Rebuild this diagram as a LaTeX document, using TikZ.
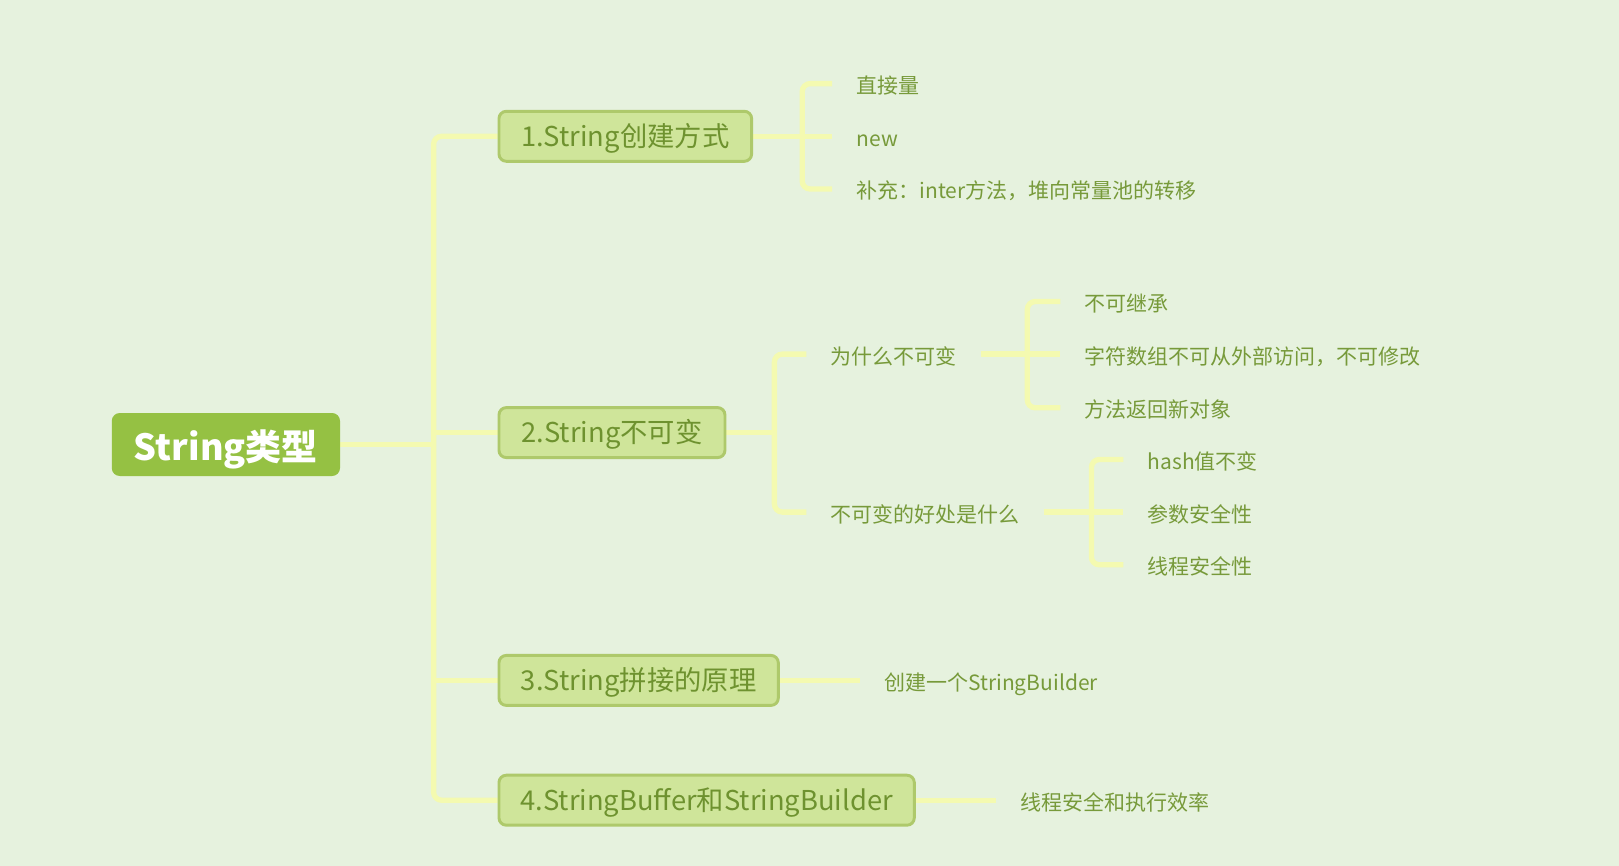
\documentclass[tikz,border=0pt]{standalone}
\usepackage{fontspec}
\setmainfont{Noto Sans CJK SC}
\usetikzlibrary{backgrounds}
\definecolor{bgcol}{HTML}{E6F2DE}
\definecolor{linecol}{HTML}{F4FAB0}
\definecolor{rootfill}{HTML}{95C143}
\definecolor{boxfill}{HTML}{CFE59A}
\definecolor{boxborder}{HTML}{AEC96B}
\definecolor{txtcol}{HTML}{6E922F}
\definecolor{leafcol}{HTML}{779A3A}
\begin{document}
\begin{tikzpicture}[x=0.75pt,y=-0.75pt,
  conn/.style={line width=4pt, draw=linecol},
  bendconn/.style={conn, rounded corners=6pt},
  rootbox/.style={fill=rootfill, rounded corners=6pt, text=white,
    font=\fontsize{27}{32}\selectfont\bfseries, minimum height=47.25pt,
    text height=24.2pt, text depth=0pt, inner sep=0pt, anchor=west},
  topic/.style={fill=boxfill, draw=boxborder, line width=2.2pt, rounded corners=5.5pt,
    text=txtcol, font=\fontsize{20.5}{25}\selectfont, minimum height=37.5pt,
    text height=15.2pt, text depth=0pt, inner sep=0pt, anchor=west},
  leaf/.style={text=leafcol, font=\fontsize{15.75}{18}\selectfont,
    text height=15pt, text depth=0pt,
    inner xsep=18pt, inner ysep=0pt, anchor=west}]
\useasboundingbox (0,0) rectangle (1619,866);

% main nodes
\node[rootbox, minimum width=171.2pt] (root) at (111.5,444.5) {String类型};
\node[topic, minimum width=189.5pt] (t1) at (497.5,136.3) {1.String创建方式};
\node[topic, minimum width=169.5pt] (t2) at (497.5,432.6) {2.String不可变};
\node[topic, minimum width=209.5pt] (t3) at (497.5,680.4) {3.String拼接的原理};
\node[topic, minimum width=311.5pt] (t4) at (497.5,800.2) {4.StringBuffer和StringBuilder};

% leaves of 1
\node[leaf] (l11) at (832.2,83.6) {直接量};
\node[leaf] (l12) at (832.2,136.3) {new};
\node[leaf] (l13) at (832.2,189) {补充：inter方法，堆向常量池的转移};
\coordinate (j1) at (802.2,136.3);

% leaves of 2
\node[leaf] (why) at (806.4,354.1) {为什么不可变};
\node[leaf] (ben) at (806.4,512.1) {不可变的好处是什么};
\coordinate (j2) at (774.4,432.6);

\node[leaf] (w1) at (1060.4,301.5) {不可继承};
\node[leaf] (w2) at (1060.4,354.1) {字符数组不可从外部访问，不可修改};
\node[leaf] (w3) at (1060.4,407.8) {方法返回新对象};
\coordinate (j3) at (1027.3,354.1);

\node[leaf] (b1) at (1123.4,459.5) {hash值不变};
\node[leaf] (b2) at (1123.4,512.1) {参数安全性};
\node[leaf] (b3) at (1123.4,564.8) {线程安全性};
\coordinate (j4) at (1091.4,512.1);

% leaves of 3 and 4
\node[leaf] (s3) at (860,680.4) {创建一个StringBuilder};
\node[leaf] (s4) at (996.4,800.2) {线程安全和执行效率};

\coordinate (tr) at (433.6,444.5);

\begin{scope}[on background layer]
  \fill[bgcol] (0,0) rectangle (1619,866);
  % trunk
  \draw[conn] (root.east) -- (tr);
  \draw[bendconn] (t1.west) -| (tr) |- (t4.west);
  \draw[conn] (tr |- t2.west) -- (t2.west);
  \draw[conn] (tr |- t3.west) -- (t3.west);
  % 1
  \draw[conn] (t1.east) -- (l12.west);
  \draw[bendconn] (l11.west) -| (j1) |- (l13.west);
  % 2
  \draw[conn] (t2.east) -- (j2);
  \draw[bendconn] (why.west) -| (j2) |- (ben.west);
  \draw[conn] (why.east) -- (w2.west);
  \draw[bendconn] (w1.west) -| (j3) |- (w3.west);
  \draw[conn] (ben.east) -- (b2.west);
  \draw[bendconn] (b1.west) -| (j4) |- (b3.west);
  % 3, 4
  \draw[conn] (t3.east) -- (s3.west);
  \draw[conn] (t4.east) -- (s4.west);
\end{scope}
\end{tikzpicture}
\end{document}
